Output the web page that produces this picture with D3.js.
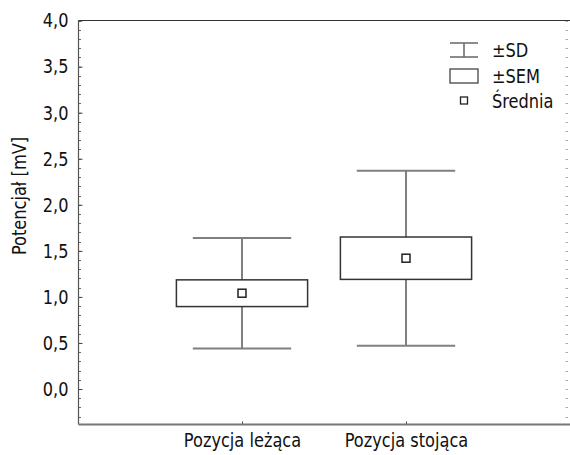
<!DOCTYPE html>
<html>
<head>
<meta charset="utf-8">
<script src="https://cdn.jsdelivr.net/npm/d3@7"></script>
<style>
  html, body { margin: 0; padding: 0; background: #fff; }
  svg text { font-family: "Liberation Sans Narrow", "DejaVu Sans Condensed", "Roboto", sans-serif; fill: #111; }
</style>
</head>
<body>
<svg id="chart" width="570" height="455"></svg>
<script>
const categories = ["Pozycja leżąca", "Pozycja stojąca"];
const means = [1.04, 1.42];
const sds = [0.60, 0.95];
const sems = [0.145, 0.23];
const yTicks = [0, 0.5, 1.0, 1.5, 2.0, 2.5, 3.0, 3.5, 4.0];
const legendLabels = ["±SD", "±SEM", "Średnia"];

const svg = d3.select("#chart");
const pLeft = 78.5, pRight = 568, pTop = 20.5, pBottom = 424.5;
const FS = 20;

const y = d3.scaleLinear().domain([-0.385, 4.0]).range([pBottom, pTop]);
const x = d3.scalePoint().domain(categories).range([78, 570]).padding(1);
const step = x.step();
const fmt = v => d3.format(".1f")(v).replace(".", ",");
const fontFam = '"Liberation Sans Narrow", "DejaVu Sans Condensed", sans-serif';

// minor ticks left & right
const minor = d3.range(-3, 41).map(d => d / 10);
svg.append("g").selectAll("line").data(minor).join("line")
  .attr("x1", pLeft).attr("x2", pLeft + 2.5)
  .attr("y1", d => Math.round(y(d)) + 0.5).attr("y2", d => Math.round(y(d)) + 0.5)
  .attr("stroke", "#666").attr("stroke-width", 1);
svg.append("g").selectAll("line").data(minor).join("line")
  .attr("x1", pRight - 2.5).attr("x2", pRight)
  .attr("y1", d => Math.round(y(d)) + 0.5).attr("y2", d => Math.round(y(d)) + 0.5)
  .attr("stroke", "#aaa").attr("stroke-width", 1);

// left axis
const yAxis = d3.axisLeft(y).tickValues(yTicks).tickFormat(fmt).tickSize(-4).tickPadding(10);
const gy = svg.append("g").attr("transform", `translate(${pLeft},0)`).call(yAxis);
gy.select(".domain").remove();
gy.selectAll(".tick line").attr("stroke", "#444");
gy.selectAll(".tick text").attr("font-size", FS).attr("fill", "#111").style("font-family", fontFam);

// bottom axis
const xAxis = d3.axisBottom(x).tickSize(-3).tickPadding(8);
const gx = svg.append("g").attr("transform", `translate(0,${pBottom})`).call(xAxis);
gx.select(".domain").remove();
gx.selectAll(".tick line").attr("stroke", "#444");
gx.selectAll(".tick text").attr("font-size", FS).attr("fill", "#111").style("font-family", fontFam);

// frame lines
svg.append("line").attr("x1", pLeft).attr("x2", pLeft).attr("y1", pTop).attr("y2", pBottom)
  .attr("stroke", "#555").attr("stroke-width", 1.2);
svg.append("line").attr("x1", pLeft).attr("x2", 570).attr("y1", pTop).attr("y2", pTop)
  .attr("stroke", "#333").attr("stroke-width", 1);
svg.append("line").attr("x1", pLeft).attr("x2", 570).attr("y1", pBottom).attr("y2", pBottom)
  .attr("stroke", "#777").attr("stroke-width", 2);

// y title
svg.append("text")
  .attr("transform", `translate(26,196) rotate(-90)`)
  .attr("text-anchor", "middle").attr("font-size", FS)
  .text("Potencjał [mV]");

// boxes
const data = categories.map((c, i) => ({ c, m: means[i], sd: sds[i], se: sems[i] }));
const g = svg.append("g").selectAll("g").data(data).join("g");
const capW = step * 0.6, boxW = step * 0.8;
g.append("line").attr("x1", d => x(d.c)).attr("x2", d => x(d.c))
  .attr("y1", d => y(d.m + d.sd)).attr("y2", d => y(d.m - d.sd))
  .attr("stroke", "#808080").attr("stroke-width", 2);
g.append("line").attr("x1", d => x(d.c) - capW / 2).attr("x2", d => x(d.c) + capW / 2)
  .attr("y1", d => y(d.m + d.sd)).attr("y2", d => y(d.m + d.sd))
  .attr("stroke", "#808080").attr("stroke-width", 2);
g.append("line").attr("x1", d => x(d.c) - capW / 2).attr("x2", d => x(d.c) + capW / 2)
  .attr("y1", d => y(d.m - d.sd)).attr("y2", d => y(d.m - d.sd))
  .attr("stroke", "#808080").attr("stroke-width", 2);
g.append("rect").attr("x", d => x(d.c) - boxW / 2).attr("width", boxW)
  .attr("y", d => y(d.m + d.se)).attr("height", d => y(d.m - d.se) - y(d.m + d.se))
  .attr("fill", "#fff").attr("stroke", "#333").attr("stroke-width", 1.5);
g.append("rect").attr("x", d => x(d.c) - 4).attr("width", 8)
  .attr("y", d => y(d.m) - 4).attr("height", 8)
  .attr("fill", "#fff").attr("stroke", "#222").attr("stroke-width", 1.5);

// legend
const lg = svg.append("g");
const lx = 450, lw = 28;
lg.append("line").attr("x1", lx).attr("x2", lx + lw).attr("y1", 43).attr("y2", 43).attr("stroke", "#666").attr("stroke-width", 1.5);
lg.append("line").attr("x1", lx).attr("x2", lx + lw).attr("y1", 57).attr("y2", 57).attr("stroke", "#666").attr("stroke-width", 1.5);
lg.append("line").attr("x1", lx + lw / 2).attr("x2", lx + lw / 2).attr("y1", 43).attr("y2", 57).attr("stroke", "#666").attr("stroke-width", 1.5);
lg.append("rect").attr("x", lx).attr("y", 69).attr("width", lw).attr("height", 14)
  .attr("fill", "#fff").attr("stroke", "#444").attr("stroke-width", 1.3);
lg.append("rect").attr("x", lx + lw / 2 - 3.5).attr("y", 97).attr("width", 7).attr("height", 7)
  .attr("fill", "#fff").attr("stroke", "#222").attr("stroke-width", 1.3);
lg.selectAll("text").data(legendLabels).join("text")
  .attr("x", 492).attr("y", (d, i) => 50 + i * 25.5).attr("dy", "0.35em")
  .attr("font-size", FS).text(d => d);

// condense glyphs to mimic a narrow typeface
svg.selectAll("text").each(function () {
  const w = this.getComputedTextLength();
  if (w > 0) {
    this.setAttribute("textLength", (w * 0.9).toFixed(1));
    this.setAttribute("lengthAdjust", "spacingAndGlyphs");
  }
});
</script>
</body>
</html>
